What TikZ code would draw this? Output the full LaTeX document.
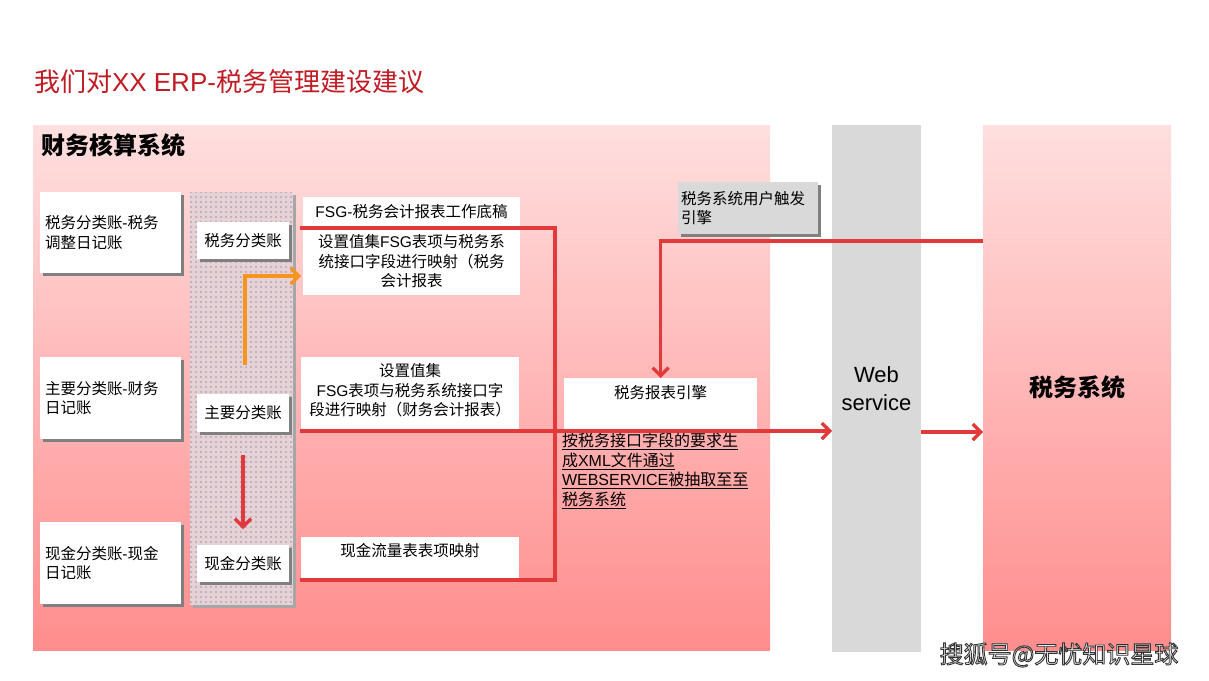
\documentclass[tikz,border=0pt]{standalone}
\usepackage{fontspec}
\setmainfont{Noto Sans CJK SC}
\newfontfamily\latinfont{Liberation Sans}
\newcommand{\lt}[1]{{\latinfont #1}}
\usetikzlibrary{arrows.meta,patterns.meta,shadows}

\definecolor{titlered}{RGB}{192,28,36}
\definecolor{panelTop}{RGB}{255,223,223}
\definecolor{panelBot}{RGB}{255,141,141}
\definecolor{linered}{RGB}{226,58,58}
\definecolor{orangeline}{RGB}{247,148,29}
\definecolor{webgray}{RGB}{217,217,217}
\definecolor{shgray}{RGB}{128,128,128}
\definecolor{dotbase}{RGB}{230,210,212}
\definecolor{dotblue}{RGB}{60,76,150}

\tikzdeclarepattern{name=bluedots, type=uncolored,
  bounding box={(0pt,0pt) and (4.5pt,4.5pt)},
  tile size={(4.5pt,4.5pt)},
  code={\fill (2.25pt,2.25pt) circle (0.7pt);}}

\begin{document}
\begin{tikzpicture}[x=1pt,y=-1pt,
  every node/.style={inner sep=0pt,outer sep=0pt},
  txt/.style={font=\fontsize{15.5}{19.5}\selectfont},
  wbox/.style={txt, fill=white, anchor=north west,
    drop shadow={shadow xshift=3pt,shadow yshift=-3pt,fill=shgray,opacity=1}},
  plainbox/.style={txt, fill=white, anchor=north west},
  panel/.style={anchor=north west, top color=panelTop, bottom color=panelBot},
  redline/.style={draw=linered, line width=3.2pt},
  redarrow/.style={redline, -{Straight Barb[length=8pt,width=16pt]}},
  orarrow/.style={draw=orangeline, line width=3.2pt, -{Straight Barb[length=8pt,width=16pt]}},
]
\useasboundingbox (0,0) rectangle (1209,680);
\fill[white] (0,0) rectangle (1209,680);

% title
\node[anchor=west, text=titlered, font=\fontsize{26}{30}\selectfont] (title) at (34,82) {我们对\lt{XX ERP-}税务管理建设建议};

% panels
\node[panel, minimum width=737, minimum height=525] (fin) at (33,125) {};
\node[anchor=west, font=\fontsize{24}{28}\selectfont\bfseries] (finlbl) at (41,145) {财务核算系统};
\node[anchor=north west, minimum width=89, minimum height=527, fill=webgray,
  font=\latinfont\fontsize{22}{28}\selectfont, align=center] (web) at (832,125) {Web\\service};
\node[panel, minimum width=188, minimum height=525,
  font=\fontsize{24}{28}\selectfont\bfseries] (tax) at (983,125) {税务系统};

% left boxes
\node[wbox, minimum width=141, minimum height=81, text width=131, inner xsep=5, align=left] (lb1) at (40,192) {税务分类账\lt{-}税务\\调整日记账};
\node[wbox, minimum width=141, minimum height=82, text width=131, inner xsep=5, align=left] (lb2) at (40,357) {主要分类账\lt{-}财务\\日记账};
\node[wbox, minimum width=141, minimum height=82, text width=131, inner xsep=5, align=left] (lb3) at (40,522) {现金分类账\lt{-}现金\\日记账};

% dotted column
\node[anchor=north west, minimum width=103, minimum height=413, fill=dotbase,
  drop shadow={shadow xshift=3pt,shadow yshift=-3pt,fill=shgray!70,opacity=1},
  postaction={pattern={bluedots}, pattern color=dotblue}] (dots) at (190,192) {};
\node[wbox, minimum width=92, minimum height=37] (ib1) at (197,222) {税务分类账};
\node[wbox, minimum width=92, minimum height=38] (ib2) at (197,394) {主要分类账};
\node[wbox, minimum width=92, minimum height=37] (ib3) at (197,545) {现金分类账};

% FSG boxes
\node[plainbox, minimum width=217, minimum height=29] (fa) at (303,197) {\lt{FSG-}税务会计报表工作底稿};
\node[plainbox, minimum width=217, minimum height=67, align=center] (fb) at (303,228) {设置值集\lt{FSG}表项与税务系\\统接口字段进行映射（税务\\会计报表};
\node[plainbox, minimum width=218, minimum height=73] (fc) at (301,357) {};
\node[txt, align=center] (fct) at (410,390.5) {设置值集\\\lt{FSG}表项与税务系统接口字\\段进行映射（财务会计报表）};
\node[plainbox, minimum width=218, minimum height=42] (fd) at (301,537) {};
\node[txt] (fdt) at (410,551) {现金流量表表项映射};

% engine
\node[plainbox, minimum width=193, minimum height=52] (eng) at (564,378) {};
\node[txt] (engt) at (660.5,393) {税务报表引擎};
\node[txt, font=\fontsize{16}{19.7}\selectfont, anchor=north west, align=left] (note) at (562,433)
  {\underline{按税务接口字段的要求生}\\\underline{成\lt{XML}文件通过}\\\underline{\lt{WEBSERVICE}被抽取至至}\\\underline{税务系统}};

% trigger
\node[wbox, fill=webgray, minimum width=140, minimum height=52, text width=134, inner xsep=3, align=left] (trig) at (678,182) {税务系统用户触发\\引擎};

% connectors
\coordinate (ra) at (300,228);
\coordinate (rb) at (555,228);
\coordinate (rc) at (555,580);
\coordinate (rd) at (300,580);
\draw[redline] (ra) -- (rb) -- (rc) -- (rd);
\coordinate (sa) at (300,431);
\draw[redarrow] (sa) -- (sa -| web.west);
\coordinate (sb) at (921,432);
\draw[redarrow] (sb) -- (sb -| tax.west);
\coordinate (ta) at (983,241);
\draw[redarrow] (ta) -| (eng.north);
\coordinate (oa) at (245,365);
\coordinate (ob) at (301,276);
\draw[orarrow] (oa) |- (ob);
\coordinate (da) at (243,455);
\coordinate (db) at (243,529);
\draw[redarrow] (da) -- (db);

% watermark
\node[text=white, font=\fontsize{24}{28}\selectfont] (wm) at (1059,655)
  {\special{pdf:literal direct 2 Tr 0.9 w 0.2 G}搜狐号@无忧知识星球\special{pdf:literal direct 0 Tr}};
\end{tikzpicture}
\end{document}
